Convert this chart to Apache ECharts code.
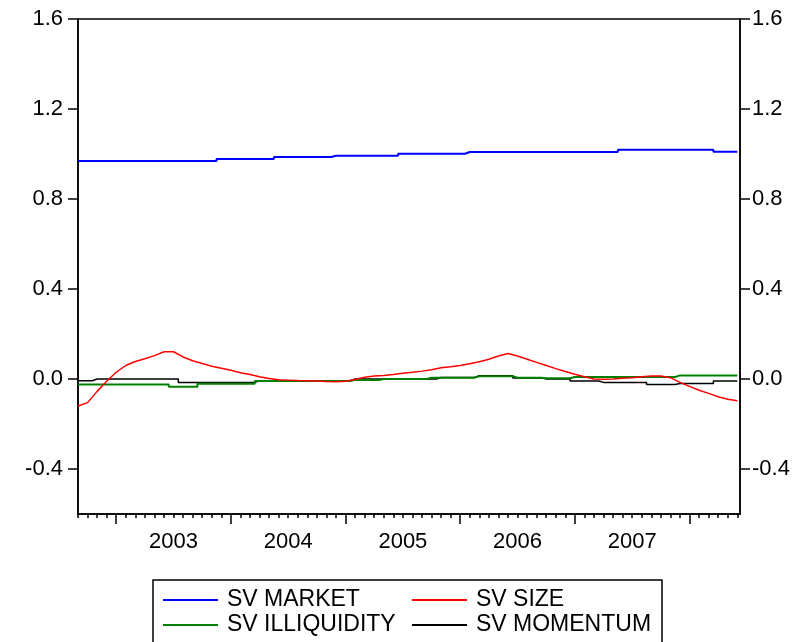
<!DOCTYPE html>
<html><head><meta charset="utf-8">
<script src="https://cdn.jsdelivr.net/npm/echarts@6/dist/echarts.min.js"></script>
<style>html,body{margin:0;padding:0;background:#fff}#c{width:807px;height:642px}</style>
</head><body><div id="c"></div>
<script>
const months = [
  '2002-09','2002-10','2002-11','2002-12',
  '2003-01','2003-02','2003-03','2003-04','2003-05','2003-06','2003-07','2003-08','2003-09','2003-10','2003-11','2003-12',
  '2004-01','2004-02','2004-03','2004-04','2004-05','2004-06','2004-07','2004-08','2004-09','2004-10','2004-11','2004-12',
  '2005-01','2005-02','2005-03','2005-04','2005-05','2005-06','2005-07','2005-08','2005-09','2005-10','2005-11','2005-12',
  '2006-01','2006-02','2006-03','2006-04','2006-05','2006-06','2006-07','2006-08','2006-09','2006-10','2006-11','2006-12',
  '2007-01','2007-02','2007-03','2007-04','2007-05','2007-06','2007-07','2007-08','2007-09','2007-10','2007-11','2007-12',
  '2008-01','2008-02','2008-03','2008-04','2008-05','2008-06'
];
const yearLabels = ['2003','2004','2005','2006','2007'];
const yTickLabels = [-0.4, 0.0, 0.4, 0.8, 1.2, 1.6];

const svMarket = [
  0.969,0.969,0.969,0.969,0.969,0.969,0.969,0.969,0.969,0.969,0.969,0.969,0.969,0.969,0.969,
  0.978,0.978,0.978,0.978,0.978,0.978,
  0.987,0.987,0.987,0.987,0.987,0.987,
  0.992,0.992,0.992,0.992,0.992,0.992,0.992,
  1.001,1.001,1.001,1.001,1.001,1.001,1.001,
  1.009,1.009,1.009,1.009,1.009,1.009,1.009,1.009,1.009,1.009,1.009,1.009,1.009,1.009,1.009,1.009,
  1.019,1.019,1.019,1.019,1.019,1.019,1.019,1.019,1.019,1.019,
  1.010,1.010,1.010
];
const svSize = [
  -0.12,-0.105,-0.055,-0.01,0.03,0.06,0.078,0.09,0.104,0.121,
  0.121,0.098,0.081,0.069,0.057,0.048,0.039,0.028,0.02,0.01,
  0.002,-0.003,-0.005,-0.007,-0.008,-0.009,-0.011,-0.012,-0.01,-0.002,
  0.008,0.013,0.016,0.02,0.026,0.03,0.035,0.041,0.05,0.054,
  0.06,0.068,0.077,0.088,0.102,0.113,0.102,0.088,0.074,0.06,
  0.046,0.033,0.021,0.01,0.0,-0.001,0.0,0.003,0.006,0.01,
  0.013,0.013,0.006,-0.015,-0.033,-0.05,-0.064,-0.079,-0.09,-0.097
];
const svIlliquidity = [
  -0.024,-0.024,-0.024,-0.024,-0.024,-0.024,-0.024,-0.024,-0.024,-0.024,
  -0.034,-0.034,-0.034,
  -0.021,-0.021,-0.021,-0.021,-0.021,-0.021,
  -0.009,-0.009,-0.009,-0.009,-0.009,-0.009,-0.009,-0.009,-0.009,-0.009,
  -0.004,-0.004,-0.004,
  0.0,0.0,0.0,0.0,0.0,
  0.006,0.006,0.006,0.006,0.006,
  0.012,0.012,0.012,0.012,
  0.006,0.006,0.006,
  0.003,0.003,0.003,
  0.009,0.009,0.009,0.009,0.009,0.009,0.009,0.009,0.009,0.009,0.009,
  0.016,0.016,0.016,0.016,0.016,0.016,0.016
];
const svMomentum = [
  -0.008,-0.008,
  0.0,0.0,0.0,0.0,0.0,0.0,0.0,0.0,0.0,
  -0.015,-0.015,-0.015,-0.015,-0.015,-0.015,-0.015,-0.015,
  -0.008,-0.008,-0.008,-0.008,-0.008,-0.008,-0.008,-0.008,-0.008,-0.008,
  0.0,0.0,0.0,0.0,0.0,0.0,0.0,0.0,0.0,
  0.007,0.007,0.007,0.007,
  0.015,0.015,0.015,0.015,
  0.005,0.005,0.005,
  0.0,0.0,0.0,
  -0.009,-0.009,-0.009,
  -0.015,-0.015,-0.015,-0.015,-0.015,
  -0.024,-0.024,-0.024,
  -0.02,-0.02,-0.02,-0.02,
  -0.009,-0.009,-0.009
];

const toX = s => { const p = s.split('-').map(Number); return p[0] + (p[1] - 1) / 12; };
const xs = months.map(toX);
const pair = arr => xs.map((x, i) => [x, arr[i]]);
const X_MIN = xs[0], X_MAX = 2008.44;
const font = "'Liberation Sans', Arial, sans-serif";
const axisLineStyle = { color: '#000', width: 1.5 };

const chart = echarts.init(document.getElementById('c'), null, { renderer: 'canvas' });
const yAxisBase = (pos, margin) => ({
  type: 'value', min: -0.6, max: 1.6, position: pos,
  axisLine: { show: true, onZero: false, lineStyle: axisLineStyle },
  splitLine: { show: false },
  axisTick: { show: true, inside: false, length: 10, customValues: yTickLabels, lineStyle: axisLineStyle },
  axisLabel: { show: true, customValues: yTickLabels, formatter: v => Number(v).toFixed(1),
    fontSize: 22, color: '#000', fontFamily: font, margin: margin }
});
chart.setOption({
  animation: false,
  backgroundColor: '#fff',
  grid: { left: 78, right: 67, top: 19, bottom: 128, show: true, borderColor: '#000', borderWidth: 1.5, backgroundColor: 'transparent' },
  xAxis: [
    { type: 'value', min: X_MIN, max: X_MAX, position: 'bottom',
      axisLine: { show: true, onZero: false, lineStyle: axisLineStyle },
      splitLine: { show: false },
      axisTick: { show: true, length: 4, customValues: xs, lineStyle: axisLineStyle },
      axisLabel: { show: true, customValues: yearLabels.map(y => Number(y) + 0.5),
        formatter: v => String(Math.floor(v)), fontSize: 22, color: '#000', fontFamily: font, margin: 17 } },
    { type: 'value', min: X_MIN, max: X_MAX, position: 'bottom',
      axisLine: { show: false, onZero: false }, splitLine: { show: false },
      axisTick: { show: true, length: 10, customValues: yearLabels.map(Number).concat([2008]), lineStyle: axisLineStyle },
      axisLabel: { show: false } }
  ],
  yAxis: [ yAxisBase('left', 15), yAxisBase('right', 12) ],
  legend: [
    { data: ['SV MARKET', 'SV ILLIQUIDITY'], orient: 'vertical', left: 163, top: 588, padding: 0,
      itemWidth: 55, itemHeight: 2, itemGap: 1, icon: 'rect', selectedMode: false,
      textStyle: { fontSize: 23, color: '#000', fontFamily: font, lineHeight: 24, padding: [0, 0, 0, 4] } },
    { data: ['SV SIZE', 'SV MOMENTUM'], orient: 'vertical', left: 412, top: 588, padding: 0,
      itemWidth: 55, itemHeight: 2, itemGap: 1, icon: 'rect', selectedMode: false,
      textStyle: { fontSize: 23, color: '#000', fontFamily: font, lineHeight: 24, padding: [0, 0, 0, 4] } }
  ],
  graphic: [
    { type: 'rect', silent: true, shape: { x: 153, y: 580, width: 509, height: 80 },
      style: { fill: 'none', stroke: '#000', lineWidth: 1.5 } }
  ],
  series: [
    { name: 'SV MARKET', type: 'line', data: pair(svMarket), showSymbol: false, step: 'middle',
      lineStyle: { color: '#0000ff', width: 2 }, itemStyle: { color: '#0000ff' } },
    { name: 'SV MOMENTUM', type: 'line', data: pair(svMomentum), showSymbol: false, step: 'middle',
      lineStyle: { color: '#000000', width: 1.5 }, itemStyle: { color: '#000000' } },
    { name: 'SV ILLIQUIDITY', type: 'line', data: pair(svIlliquidity), showSymbol: false, step: 'middle',
      lineStyle: { color: '#008000', width: 2 }, itemStyle: { color: '#008000' } },
    { name: 'SV SIZE', type: 'line', data: pair(svSize), showSymbol: false,
      lineStyle: { color: '#ff0000', width: 1.5 }, itemStyle: { color: '#ff0000' } }
  ]
});
</script>
</body></html>
